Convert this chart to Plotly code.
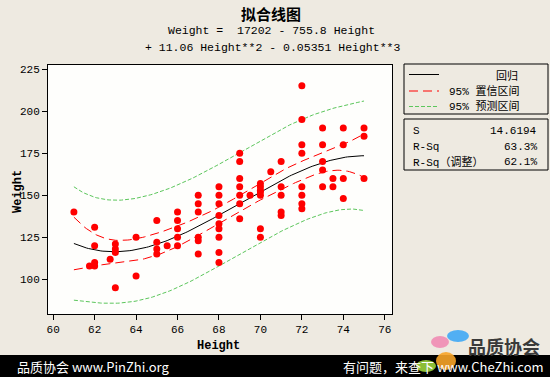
import numpy as np
import plotly.graph_objects as go

# ---------------- data ----------------
heights = [61, 61.75, 62, 62, 62, 62, 62.75, 63, 63, 63, 63, 64, 64,
           65, 65, 65, 65, 65.5, 66, 66, 66, 66, 66,
           67, 67, 67, 67, 67, 67,
           68, 68, 68, 68, 68, 68, 68, 68, 68,
           69, 69, 69, 69, 69, 69, 69, 69.5,
           70, 70, 70, 70, 70, 70, 70, 70.5,
           71, 71, 71, 71, 71,
           72, 72, 72, 72, 72, 72, 72, 72,
           73, 73, 73, 73, 73, 73.5, 73.5,
           74, 74, 74, 74, 75, 75, 75]
weights = [140, 108, 131, 120, 110, 108, 112, 121, 118, 116, 95, 125, 102,
           135, 122, 118, 115, 120, 140, 135, 130, 125, 120,
           150, 145, 140, 125, 123, 115,
           155, 150, 145, 138, 133, 130, 125, 116, 110,
           175, 170, 160, 155, 150, 145, 136, 150,
           157, 155, 153, 152, 150, 130, 125, 164,
           170, 155, 150, 140, 138,
           215, 195, 180, 175, 155, 150, 145, 142,
           190, 180, 170, 165, 155, 160, 155,
           190, 180, 160, 148, 190, 185, 160]
x_ticks = [60, 62, 64, 66, 68, 70, 72, 74, 76]
y_ticks = [100, 125, 150, 175, 200, 225]
stat_names = ["S", "R-Sq", "R-Sq（调整）"]
stat_values = ["14.6194", "63.3%", "62.1%"]
legend_names = ["回归", "95% 置信区间", "95% 预测区间"]

# ---------------- cubic regression with CI / PI ----------------
h = np.array(heights, float)
w = np.array(weights, float)
c = 68.0
X = np.vander(h - c, 4, increasing=True)
beta, *_ = np.linalg.lstsq(X, w, rcond=None)
resid = w - X @ beta
n = len(w)
s = np.sqrt((resid ** 2).sum() / (n - 4))
XtXi = np.linalg.inv(X.T @ X)
grid = np.linspace(min(heights), max(heights), 141)
G = np.vander(grid - c, 4, increasing=True)
yhat = G @ beta
se = s * np.sqrt(np.einsum('ij,jk,ik->i', G, XtXi, G))
t = 1.99
ci = t * se
pi = t * np.sqrt(s ** 2 + se ** 2)

# ---------------- figure ----------------
W, H = 550, 377
L, R, T, B = 48, 158, 65, 63
PW, PH = W - L - R, H - T - B


def px(x):
    return (x - L) / PW


def py(y):
    return (H - B - y) / PH


MONO = "Liberation Mono, DejaVu Sans Mono, Noto Sans CJK SC"
CJK = "Noto Sans CJK SC, Liberation Mono"
RED = "#FF0000"
GREEN = "#5CC65C"

fig = go.Figure()
fig.add_trace(go.Scatter(x=grid, y=yhat + pi, mode="lines",
                         line=dict(color=GREEN, width=1, dash="4px,2px"), hoverinfo="skip"))
fig.add_trace(go.Scatter(x=grid, y=yhat - pi, mode="lines",
                         line=dict(color=GREEN, width=1, dash="4px,2px"), hoverinfo="skip"))
fig.add_trace(go.Scatter(x=grid, y=yhat + ci, mode="lines",
                         line=dict(color=RED, width=1, dash="9px,5px"), hoverinfo="skip"))
fig.add_trace(go.Scatter(x=grid, y=yhat - ci, mode="lines",
                         line=dict(color=RED, width=1, dash="9px,5px"), hoverinfo="skip"))
fig.add_trace(go.Scatter(x=grid, y=yhat, mode="lines",
                         line=dict(color="black", width=1), hoverinfo="skip"))
fig.add_trace(go.Scatter(x=heights, y=weights, mode="markers",
                         marker=dict(color=RED, size=7, line=dict(width=0))))

shapes = []
annotations = []

# legend boxes
shapes.append(dict(type="rect", xref="paper", yref="paper",
                   x0=px(404), x1=px(548), y0=py(114), y1=py(64),
                   line=dict(color="black", width=1)))
shapes.append(dict(type="rect", xref="paper", yref="paper",
                   x0=px(404), x1=px(548), y0=py(170), y1=py(119),
                   line=dict(color="black", width=1)))
leg_y = [74.5, 91, 106.5]
leg_styles = [dict(color="black", width=1),
              dict(color=RED, width=1, dash="9px,5px"),
              dict(color=GREEN, width=1, dash="4px,2px")]
for yy, st in zip(leg_y, leg_styles):
    shapes.append(dict(type="line", xref="paper", yref="paper",
                       x0=px(409), x1=px(439), y0=py(yy), y1=py(yy), line=st))
annotations.append(dict(x=px(507), y=py(leg_y[0]), xref="paper", yref="paper",
                        text=legend_names[0], showarrow=False, xanchor="center",
                        yanchor="middle",
                        font=dict(family=CJK, size=11, color="black")))
for i in (1, 2):
    annotations.append(dict(x=px(447), y=py(leg_y[i]), xref="paper", yref="paper",
                            text=legend_names[i], showarrow=False, xanchor="left",
                            yanchor="middle",
                            font=dict(family=MONO, size=11, color="black")))
stat_y = [130.5, 147, 162]
for nm, val, yy in zip(stat_names, stat_values, stat_y):
    annotations.append(dict(x=px(411), y=py(yy), xref="paper", yref="paper", text=nm,
                            showarrow=False, xanchor="left", yanchor="middle",
                            font=dict(family=MONO, size=11, color="black")))
    annotations.append(dict(x=px(539), y=py(yy), xref="paper", yref="paper", text=val,
                            showarrow=False, xanchor="right", yanchor="middle",
                            font=dict(family=MONO, size=11, color="black")))

# titles
annotations.append(dict(x=px(271), y=py(13), xref="paper", yref="paper",
                        text="<b>拟合线图</b>", showarrow=False, yanchor="middle",
                        font=dict(family=CJK, size=15, color="black")))
annotations.append(dict(x=px(271), y=py(30), xref="paper", yref="paper",
                        text="Weight =  17202 - 755.8 Height", showarrow=False,
                        yanchor="middle",
                        font=dict(family=MONO, size=11.5, color="black")))
annotations.append(dict(x=px(272), y=py(47), xref="paper", yref="paper",
                        text="+ 11.06 Height**2 - 0.05351 Height**3", showarrow=False,
                        yanchor="middle",
                        font=dict(family=MONO, size=11.5, color="black")))
annotations.append(dict(x=px(218), y=py(346), xref="paper", yref="paper",
                        text="<b>Height</b>", showarrow=False, yanchor="middle",
                        font=dict(family=MONO, size=12, color="black")))
annotations.append(dict(x=px(9), y=py(192), xref="paper", yref="paper",
                        text="<b>Weight</b>", showarrow=False, textangle=-90,
                        yanchor="middle",
                        font=dict(family=MONO, size=12, color="black")))

# bottom banner
shapes.append(dict(type="rect", xref="paper", yref="paper", layer="above",
                   x0=px(0), x1=px(550), y0=py(377), y1=py(355),
                   fillcolor="black", line=dict(width=0)))
annotations.append(dict(x=px(15), y=py(366), xref="paper", yref="paper",
                        text="品质协会 www.PinZhi.org", showarrow=False, xanchor="left",
                        yanchor="middle",
                        font=dict(family=CJK, size=13, color="white")))
annotations.append(dict(x=px(546), y=py(366), xref="paper", yref="paper",
                        text="有问题，来查下 www.CheZhi.com", showarrow=False, xanchor="right",
                        yanchor="middle",
                        font=dict(family=CJK, size=13, color="white")))
# logo
for (cx, cy, rx, ry, col) in [(440, 342, 9, 6, "#F08CB4"), (458, 336, 11, 6, "#3FA9F5"),
                              (426, 366, 10, 6, "#9BD33C"), (446, 361, 10, 9, "#F7A428")]:
    shapes.append(dict(type="circle", xref="paper", yref="paper", layer="above",
                       x0=px(cx - rx), x1=px(cx + rx), y0=py(cy + ry), y1=py(cy - ry),
                       fillcolor=col, opacity=0.9, line=dict(width=0)))
annotations.append(dict(x=px(466), y=py(346), xref="paper", yref="paper",
                        text="<b>品质协会</b>", showarrow=False, xanchor="left",
                        yanchor="middle",
                        font=dict(family=CJK, size=18, color="#3A3A3A")))

axis_common = dict(showline=True, mirror=True, linecolor="black", linewidth=1,
                   showgrid=False, zeroline=False, ticks="outside", ticklen=5,
                   tickcolor="black", tickwidth=1,
                   tickfont=dict(family=MONO, size=11, color="black"))

fig.update_layout(
    width=W, height=H, autosize=False,
    margin=dict(l=L, r=R, t=T, b=B, pad=0),
    paper_bgcolor="#EEEAE1", plot_bgcolor="#FEFEFC",
    showlegend=False,
    xaxis=dict(range=[59.75, 76.35], tickvals=x_ticks, **axis_common),
    yaxis=dict(range=[79.4, 227.4], tickvals=y_ticks, **axis_common),
    shapes=shapes, annotations=annotations,
)

fig.write_html("out.html", config={"displayModeBar": False},
               post_script="document.body.style.margin='0';document.body.style.overflow='hidden';")
